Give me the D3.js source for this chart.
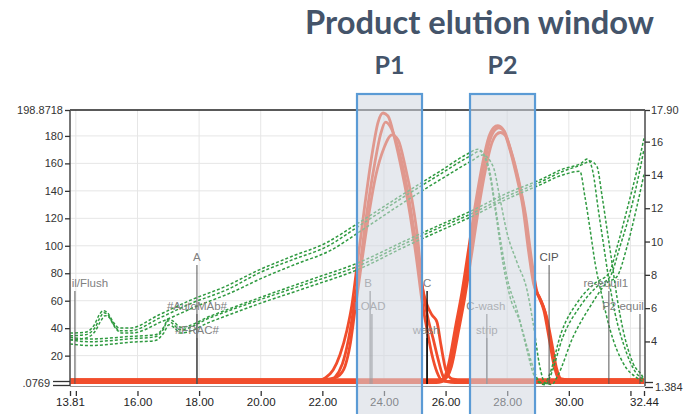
<!DOCTYPE html>
<html><head><meta charset="utf-8">
<script src="https://cdn.jsdelivr.net/npm/d3@7"></script>
<style>body{margin:0;background:#fff}svg{display:block}</style>
</head><body>
<svg id="c" width="693" height="414"></svg>
<script>
// ---------------- DATA ----------------
const xDomain = [13.81, 32.44];
const leftDomain = [0.0769, 198.8718];
const rightDomain = [1.384, 17.90];
const xTickValues = [13.81, 14, 16, 18, 20, 22, 24, 26, 28, 30, 32, 32.44];
const xTickLabels = ["13.81", "", "16.00", "18.00", "20.00", "22.00", "24.00", "26.00", "28.00", "30.00", "", "32.44"];
const leftTickValues = [0.0769, 20, 40, 60, 80, 100, 120, 140, 160, 180, 198.8718];
const leftTickLabels = [".0769", "20", "40", "60", "80", "100", "120", "140", "160", "180", "198.8718"];
const rightTickValues = [1.384, 4, 6, 8, 10, 12, 14, 16, 17.90];
const rightTickLabels = ["1.384", "4", "6", "8", "10", "12", "14", "16", "17.90"];

// UV traces (left axis) [time, value]
const uvP1a = [[13.81,1.2],[21.6,1.2],[21.86,1.5],[22.09,3.7],[22.35,9.5],[22.57,20.5],[22.80,38.7],[22.96,56.9],[23.13,86.0],[23.38,129.7],[23.61,166.1],[23.81,190.1],[23.97,196.7],[24.13,194.5],[24.36,177.0],[24.59,153.7],[24.85,122.4],[25.07,88.2],[25.23,60.5],[25.40,38.7],[25.56,20.5],[25.72,8.1],[25.88,2.0],[26.05,1.2],[32.44,1.2]];
const uvP1b = [[13.81,2.6],[22.0,2.6],[22.25,3.0],[22.51,5.0],[22.74,12.5],[22.90,27.7],[23.06,53.2],[23.22,78.7],[23.48,118.8],[23.74,151.5],[24.00,171.2],[24.26,180.7],[24.46,177.0],[24.68,158.8],[24.91,133.3],[25.10,104.2],[25.23,72.9],[25.40,56.9],[25.56,49.6],[25.72,44.5],[25.85,27.7],[26.01,9.5],[26.21,3.0],[26.4,2.6],[32.44,2.6]];
const uvP1c = [[13.81,0.3],[21.9,0.3],[22.15,0.8],[22.4,4],[22.65,14],[22.85,32],[23.0,52],[23.2,82],[23.45,125],[23.7,160],[23.9,182],[24.05,190],[24.2,187],[24.45,172],[24.7,148],[24.95,115],[25.15,85],[25.3,62],[25.45,45],[25.6,32],[25.75,18],[25.9,6],[26.05,1],[26.3,0.3],[32.44,0.3]];
const uvP2a = [[13.81,1.2],[25.75,1.2],[25.92,2],[26.14,13.2],[26.37,40.1],[26.57,64.2],[26.79,95.5],[27.02,129.7],[27.25,158.8],[27.44,177.0],[27.60,184.3],[27.73,185.8],[27.90,183.6],[28.09,171.2],[28.32,151.5],[28.55,126.1],[28.74,93.3],[28.90,70.0],[29.06,62.0],[29.23,51.8],[29.39,32.8],[29.55,12.5],[29.71,2.3],[29.91,1.2],[32.44,1.2]];
const uvP2b = [[13.81,2.6],[25.8,2.6],[25.97,3],[26.19,12],[26.42,38],[26.62,62],[26.84,93],[27.07,127],[27.30,156],[27.49,174],[27.65,181],[27.78,182.5],[27.95,180],[28.14,168],[28.37,148],[28.60,122],[28.79,90],[28.95,68],[29.11,59],[29.28,48],[29.44,30],[29.60,11],[29.76,3],[29.96,2.6],[32.44,2.6]];
const uvP2c = [[13.81,0.3],[25.7,0.3],[25.88,1],[26.10,14],[26.33,42],[26.53,66],[26.75,98],[26.98,132],[27.21,161],[27.40,179],[27.56,186],[27.69,187.5],[27.86,185],[28.05,173],[28.28,153],[28.51,128],[28.70,95],[28.86,72],[29.02,63],[29.19,53],[29.35,34],[29.51,14],[29.67,3],[29.87,0.3],[32.44,0.3]];

// conductivity traces (right axis) [time, value]
const condU1 = [[13.81,4.34],[14.30,4.40],[14.62,4.82],[14.78,5.42],[14.91,5.72],[15.04,5.60],[15.21,5.06],[15.43,4.64],[15.76,4.64],[16.73,5.42],[17.80,6.33],[18.91,7.11],[19.98,8.14],[21.05,8.92],[22.15,9.70],[23.22,10.97],[24.52,12.54],[25.82,14.04],[26.79,15.13],[27.12,15.43],[27.44,13.92],[27.67,11.15],[27.86,8.74],[28.09,6.69],[28.42,5.12],[28.64,3.49],[28.84,2.11],[29.06,1.50],[29.25,1.40],[29.39,1.87],[29.81,4.28],[30.36,6.09],[30.91,7.29],[31.34,7.89],[31.66,9.70],[31.99,11.75],[32.31,14.34],[32.44,15.55]];
const condU2 = [[13.81,4.1],[14.30,4.2],[14.62,4.6],[14.80,5.2],[14.95,5.55],[15.08,5.45],[15.25,4.9],[15.5,4.5],[15.8,4.5],[16.8,5.2],[17.9,6.1],[19.0,6.9],[20.1,7.85],[21.15,8.65],[22.25,9.45],[23.3,10.7],[24.6,12.3],[25.9,13.8],[26.85,14.85],[27.2,15.2],[27.54,14.52],[27.77,12.54],[27.99,10.55],[28.32,8.74],[28.64,7.11],[28.84,5.12],[29.06,2.47],[29.23,1.50],[29.45,1.42],[29.62,1.87],[30.14,4.28],[30.69,6.09],[31.24,7.53],[31.56,7.89],[31.89,9.70],[32.21,12.11],[32.44,14.04]];
const condU3 = [[13.81,4.5],[14.3,4.55],[14.6,5.0],[14.76,5.6],[14.89,5.85],[15.02,5.75],[15.2,5.2],[15.42,4.8],[15.75,4.8],[16.7,5.6],[17.75,6.5],[18.85,7.3],[19.95,8.3],[21.0,9.1],[22.1,9.9],[23.2,11.15],[24.5,12.7],[25.8,14.2],[26.75,15.3],[27.05,15.55],[27.4,14.5],[27.6,12.3],[27.8,9.9],[28.0,7.8],[28.3,6.0],[28.55,4.3],[28.78,2.8],[29.0,1.7],[29.2,1.45],[29.35,1.9],[29.75,4.5],[30.3,6.4],[30.85,7.5],[31.3,8.1],[31.6,9.9],[31.9,12.0],[32.2,14.2],[32.44,16.2]];
const condL1 = [[13.81,4.10],[14.46,3.98],[15.76,4.16],[16.57,4.28],[16.83,4.70],[16.99,5.24],[17.15,5.06],[17.38,4.70],[18.35,5.42],[19.98,6.51],[21.60,7.53],[23.13,8.50],[24.75,9.94],[25.82,10.85],[26.79,11.63],[27.99,12.72],[29.06,13.56],[29.81,14.22],[30.46,14.64],[30.69,14.83],[30.91,14.52],[31.08,12.72],[31.24,10.73],[31.40,8.74],[31.56,6.69],[31.76,4.70],[32.08,2.71],[32.41,1.81],[32.44,1.68]];
const condL2 = [[13.81,3.85],[14.46,3.75],[15.76,3.95],[16.57,4.05],[16.85,4.5],[17.02,5.0],[17.18,4.85],[17.4,4.5],[18.4,5.2],[20.0,6.3],[21.6,7.3],[23.13,8.3],[24.75,9.75],[25.82,10.65],[26.79,11.45],[27.99,12.55],[29.06,13.4],[29.8,14.0],[30.36,14.22],[30.52,12.72],[30.69,10.73],[30.85,8.74],[31.08,6.69],[31.34,4.70],[31.76,2.71],[32.21,1.81],[32.44,1.56]];
const condL3 = [[13.81,4.25],[14.46,4.15],[15.76,4.3],[16.57,4.4],[16.85,4.85],[17.0,5.35],[17.17,5.2],[17.4,4.85],[18.4,5.55],[20.0,6.65],[21.6,7.7],[23.13,8.7],[24.75,10.1],[25.82,11.0],[26.79,11.8],[27.99,12.9],[29.06,13.7],[29.8,14.35],[30.4,14.7],[30.6,14.95],[30.78,14.2],[30.95,12.0],[31.12,9.9],[31.3,7.7],[31.5,5.7],[31.8,3.7],[32.15,2.2],[32.44,1.7]];

// method markers (first label is cut by the axis in the source, shown as visible)
const markerTimes = [13.97, 17.93, 17.93, 17.93, 23.55, 23.61, 25.40, 25.40, 27.34, 27.34, 29.36, 31.30, 32.31];
const markerLabels = ["il/Flush", "A", "#AutoMAb#", "#FRAC#", "B", "LOAD", "C", "wash", "C-wash", "strip", "CIP", "re-equil1", "P2 equil"];

// product elution windows
const windowNames = ["P1", "P2"];
const windowStarts = [23.125, 26.793];
const windowEnds = [25.235, 28.903];
const titleText = "Product elution window";

// ---------------- LAYOUT / STYLE ----------------
const plot = {left: 70, right: 645, top: 110, bottom: 383};
const markerRow = [1, 0, 2, 3, 1, 2, 1, 3, 2, 3, 0, 1, 2];
const markerDx = [15, 0, 0, 0, -2, -2, 0, -1, -1, 0, 0, -3, -17];
const rowBaselines = [261, 287, 310, 334];
const redColor = "#f14d2c";
const greenColor = "#2f9a40";

const svg = d3.select("#c");
const x = d3.scaleLinear().domain(xDomain).range([70, 644]);
const yL = d3.scaleLinear().domain(leftDomain).range([383, 110]);
const yR = d3.scaleLinear().domain(rightDomain).range([385, 110]);

svg.append("defs").append("clipPath").attr("id", "clip")
  .append("rect").attr("x", plot.left).attr("y", plot.top - 2)
  .attr("width", plot.right - plot.left).attr("height", plot.bottom - plot.top + 6);

// grid
const grid = svg.append("g");
grid.selectAll(".vg").data(xTickValues.filter(d => d > 13.9 && d < 32.4)).join("line")
  .attr("x1", d => x(d)).attr("x2", d => x(d)).attr("y1", plot.top).attr("y2", plot.bottom)
  .attr("stroke", "#e6e6e6").attr("stroke-width", 1);
grid.selectAll(".hg").data(leftTickValues.slice(1, -1)).join("line")
  .attr("x1", plot.left).attr("x2", plot.right).attr("y1", d => yL(d)).attr("y2", d => yL(d))
  .attr("stroke", "#e6e6e6").attr("stroke-width", 1);

// bottom thin line
svg.append("line").attr("x1", plot.left).attr("x2", plot.right).attr("y1", 386.5).attr("y2", 386.5)
  .attr("stroke", "#999").attr("stroke-width", 1);

const g = svg.append("g").attr("clip-path", "url(#clip)");

// UV traces
const lineL = d3.line().x(d => x(d[0])).y(d => yL(d[1])).curve(d3.curveMonotoneX);
[uvP1a, uvP1b, uvP1c, uvP2a, uvP2b, uvP2c].forEach(s => {
  g.append("path").attr("d", lineL(s)).attr("fill", "none")
    .attr("stroke", redColor).attr("stroke-width", 2.8).attr("stroke-linejoin", "round");
});

// conductivity traces
const lineR = d3.line().x(d => x(d[0])).y(d => yR(d[1])).curve(d3.curveMonotoneX);
[condL1, condL2, condL3, condU1, condU2, condU3].forEach(s => {
  g.append("path").attr("d", lineR(s)).attr("fill", "none")
    .attr("stroke", greenColor).attr("stroke-width", 1.5).attr("stroke-dasharray", "3,2");
});

// markers
const mk = g.append("g");
markerTimes.forEach((t, i) => {
  const base = rowBaselines[markerRow[i]];
  const dark = markerLabels[i] === "C" || markerLabels[i] === "wash";
  mk.append("line").attr("x1", x(t)).attr("x2", x(t)).attr("y1", base + 4).attr("y2", plot.bottom + 1)
    .attr("stroke", dark ? "#111" : "#555").attr("stroke-width", dark ? 1.4 : 1);
  mk.append("text").attr("x", x(t) + markerDx[i]).attr("y", base)
    .attr("text-anchor", "middle").attr("font-family", "Liberation Sans, Arial, sans-serif")
    .attr("font-size", 11.5).attr("fill", markerLabels[i] === "CIP" ? "#555" : "#808080")
    .text(markerLabels[i]);
});

// frame lines
svg.append("line").attr("x1", plot.left).attr("x2", plot.right).attr("y1", plot.top).attr("y2", plot.top)
  .attr("stroke", "#222").attr("stroke-width", 1.6);

const font = "Liberation Sans, Arial, sans-serif";
// left axis
const axL = svg.append("g").attr("transform", `translate(${plot.left},0)`)
  .call(d3.axisLeft(yL).tickValues(leftTickValues).tickFormat((d, i) => leftTickLabels[i]).tickSize(5).tickPadding(2));
axL.select(".domain").attr("d", `M0,${plot.top}V386`).attr("stroke", "#555").attr("stroke-width", 1.6);
axL.selectAll("text").attr("font-family", font).attr("font-size", 11).attr("fill", "#333");
axL.selectAll(".tick line").attr("stroke", "#333").attr("stroke-width", 1.3);
axL.selectAll(".tick").filter(d => d === leftTickValues[0]).each(function() {
  const t = d3.select(this);
  t.select("line").attr("x2", -17).attr("transform", "translate(0,-2)");
  t.append("line").attr("x2", -17).attr("stroke", "#333").attr("stroke-width", 1.3).attr("transform", "translate(0,2)");
  t.select("text").attr("x", -20);
});

// right axis
const axR = svg.append("g").attr("transform", `translate(${plot.right},0)`)
  .call(d3.axisRight(yR).tickValues(rightTickValues).tickFormat((d, i) => rightTickLabels[i]).tickSize(5).tickPadding(1));
axR.select(".domain").attr("d", `M0,${plot.top}V386`).attr("stroke", "#555").attr("stroke-width", 1.6);
axR.selectAll("text").attr("font-family", font).attr("font-size", 11).attr("fill", "#333");
axR.selectAll(".tick line").attr("stroke", "#333").attr("stroke-width", 1.3);
axR.selectAll(".tick").filter(d => d === rightTickValues[0]).each(function() {
  const t = d3.select(this);
  t.select("line").attr("x2", 8).attr("transform", "translate(0,2)");
  t.append("line").attr("x2", 8).attr("stroke", "#333").attr("stroke-width", 1.3).attr("transform", "translate(0,-3)");
  t.select("text").attr("x", 10).attr("dy", "0.5em");
});

// bottom axis
const axB = svg.append("g").attr("transform", "translate(0,391)")
  .call(d3.axisBottom(x).tickValues(xTickValues).tickFormat((d, i) => xTickLabels[i]).tickSize(5).tickPadding(2));
axB.select(".domain").remove();
axB.selectAll("text").attr("font-family", font).attr("font-size", 11.5).attr("fill", "#222");
axB.selectAll(".tick line").attr("stroke", "#333").attr("stroke-width", 1.3);

// elution windows
windowNames.forEach((n, i) => {
  const x0 = x(windowStarts[i]), x1 = x(windowEnds[i]);
  svg.append("rect").attr("x", x0).attr("y", 94).attr("width", x1 - x0).attr("height", 340)
    .attr("fill", "#d1d7e0").attr("fill-opacity", 0.55)
    .attr("stroke", "#5b9bd5").attr("stroke-width", 2.2);
  svg.append("text").attr("x", (x0 + x1) / 2).attr("y", 74).attr("text-anchor", "middle")
    .attr("font-family", "Lato, 'Open Sans', sans-serif").attr("font-weight", "bold")
    .attr("font-size", 25).attr("fill", "#44546a").text(n);
});

// title
const title = svg.append("text").attr("x", 479.5).attr("y", 34).attr("text-anchor", "middle")
  .attr("font-family", "Lato, 'Open Sans', sans-serif").attr("font-weight", "bold")
  .attr("font-size", 26).attr("fill", "#44546a").text(titleText);
const w = title.node().getComputedTextLength();
if (w > 0) title.attr("font-size", 26 * 349 / w);
</script>
</body></html>
